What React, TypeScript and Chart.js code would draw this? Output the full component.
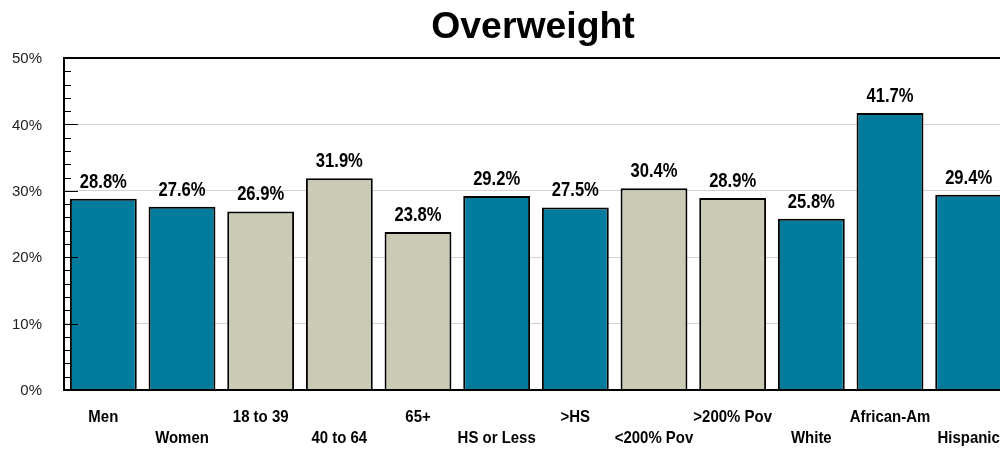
import React, { useEffect, useRef } from "react";
import { Chart, registerables } from "chart.js";

Chart.register(...registerables);

const titleText = "Overweight";
const categories = [
  "Men",
  "Women",
  "18 to 39",
  "40 to 64",
  "65+",
  "HS or Less",
  ">HS",
  "<200% Pov",
  ">200% Pov",
  "White",
  "African-Am",
  "Hispanic",
];
const values = [28.8, 27.6, 26.9, 31.9, 23.8, 29.2, 27.5, 30.4, 28.9, 25.8, 41.7, 29.4];
const colorKinds = ["teal", "teal", "tan", "tan", "tan", "teal", "teal", "tan", "tan", "teal", "teal", "teal"];
const yTickValues = [0, 10, 20, 30, 40, 50];

const TEAL = "#017b9b";
const TAN = "#cbcab5";
const FONT = "'Liberation Sans', Arial, sans-serif";

function drawScaledText(
  ctx: CanvasRenderingContext2D,
  text: string,
  x: number,
  y: number,
  font: string,
  sx: number,
  align: CanvasTextAlign = "center",
  baseline: CanvasTextBaseline = "alphabetic",
  color = "#000"
) {
  ctx.save();
  ctx.translate(x, y);
  ctx.scale(sx, 1);
  ctx.font = font;
  ctx.textAlign = align;
  ctx.textBaseline = baseline;
  ctx.fillStyle = color;
  ctx.fillText(text, 0, 0);
  ctx.restore();
}

const overlayPlugin = {
  id: "overlay",
  afterDatasetsDraw(chart: any) {
    const { ctx, chartArea: a, scales } = chart;
    const xs = scales.x;
    const ys = scales.y;
    ctx.save();
    ctx.strokeStyle = "#000";

    // minor / major ticks on inside of left axis
    ctx.lineWidth = 1;
    for (let v = 0; v <= 50; v += 2) {
      const py = Math.round(ys.getPixelForValue(v)) + 0.5;
      const len = v % 10 === 0 ? 14 : 7;
      ctx.beginPath();
      ctx.moveTo(a.left, py);
      ctx.lineTo(a.left + len, py);
      ctx.stroke();
    }

    // y tick labels
    yTickValues.forEach((v) => {
      const py = ys.getPixelForValue(v) + 1;
      drawScaledText(ctx, `${v}%`, a.left - 22, py, `15px ${FONT}`, 1, "right", "middle", "#222");
    });

    // frame lines
    ctx.lineWidth = 2;
    ctx.beginPath();
    ctx.moveTo(a.left, a.top);
    ctx.lineTo(a.left, a.bottom);
    ctx.stroke();
    ctx.beginPath();
    ctx.moveTo(a.left - 1, a.bottom);
    ctx.lineTo(a.right, a.bottom);
    ctx.stroke();
    ctx.beginPath();
    ctx.moveTo(a.left - 1, a.top);
    ctx.lineTo(a.right, a.top);
    ctx.stroke();
    ctx.beginPath();
    ctx.moveTo(a.right, a.top);
    ctx.lineTo(a.right, a.bottom);
    ctx.stroke();

    // value labels
    const meta = chart.getDatasetMeta(0);
    meta.data.forEach((bar: any, i: number) => {
      drawScaledText(ctx, values[i].toFixed(1) + "%", bar.x, bar.y - 11, `bold 20px ${FONT}`, 0.83);
    });

    // category labels, alternating rows
    categories.forEach((c, i) => {
      const px = xs.getPixelForValue(i);
      const py = i % 2 === 0 ? a.bottom + 32 : a.bottom + 53;
      drawScaledText(ctx, c, px, py, `bold 17px ${FONT}`, 0.88);
    });

    // title
    drawScaledText(ctx, titleText, (a.left + a.right) / 2 - 3, 38, `bold 37px ${FONT}`, 1.01);

    ctx.restore();
  },
};

export default function App() {
  const canvasRef = useRef<HTMLCanvasElement | null>(null);

  useEffect(() => {
    if (!canvasRef.current) return;
    const chart = new Chart(canvasRef.current, {
      type: "bar",
      data: {
        labels: categories,
        datasets: [
          {
            data: values,
            backgroundColor: colorKinds.map((k) => (k === "teal" ? TEAL : TAN)),
            borderColor: "#000",
            borderWidth: 2,
            barPercentage: 0.85,
            categoryPercentage: 1,
          },
        ],
      },
      options: {
        animation: false,
        responsive: false,
        devicePixelRatio: 1,
        layout: { padding: { left: 64, right: 12, top: 58, bottom: 59 } },
        plugins: {
          legend: { display: false },
          title: { display: false },
          tooltip: { enabled: false },
        },
        scales: {
          x: {
            display: false,
            grid: { display: false },
          },
          y: {
            min: 0,
            max: 50,
            afterBuildTicks: (scale: any) => {
              scale.ticks = yTickValues.map((v) => ({ value: v }));
            },
            ticks: { display: false },
            grid: {
              color: "#d3d3d3",
              lineWidth: 1,
              drawTicks: false,
            },
            border: { display: false },
          },
        },
      },
      plugins: [overlayPlugin],
    });
    return () => chart.destroy();
  }, []);

  return (
    <div
      style={{
        position: "fixed",
        left: 0,
        top: 0,
        width: 1000,
        height: 449,
        overflow: "hidden",
        background: "#fff",
      }}
    >
      <canvas ref={canvasRef} width={1020} height={449} style={{ display: "block" }} />
    </div>
  );
}
